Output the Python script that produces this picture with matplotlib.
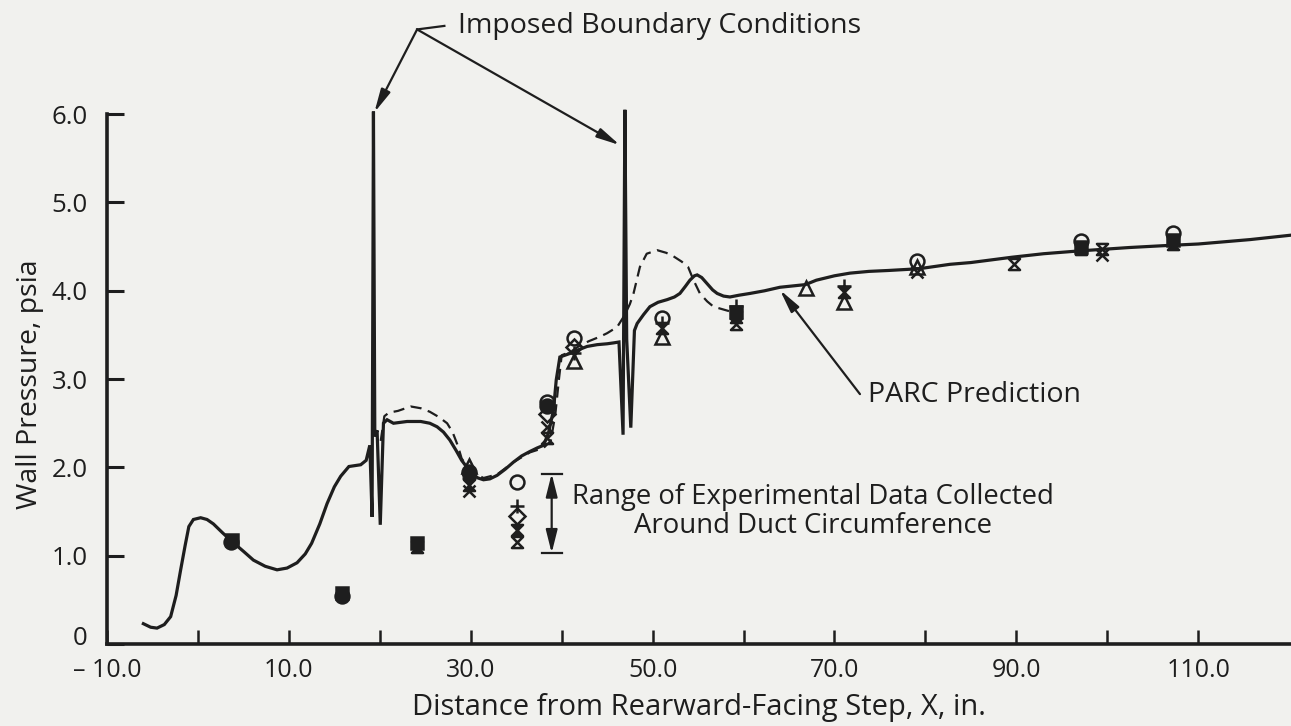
import matplotlib.pyplot as plt
from matplotlib.path import Path

plt.rcParams['font.family'] = ['Open Sans', 'DejaVu Sans']

INK = '#1e1e1e'
PAPER = '#f1f1ee'

# PARC prediction (solid) with the two imposed boundary-condition spikes
parc_x = [-6.0, -5.2, -4.5, -3.7, -3.0, -2.4, -1.9, -1.4, -1.0, -0.5, 0.3, 1.0, 1.7,
          2.7, 3.75, 5.0, 6.1, 7.4, 8.7, 9.8, 10.9, 11.8, 12.5, 13.4, 14.2, 15.0,
          15.7, 16.6, 17.9, 18.5, 18.9, 19.15, 19.3, 19.45, 19.7, 20.05, 20.4, 20.8,
          21.5, 23.0, 24.5, 25.5, 26.3, 27.0, 27.7, 28.4, 29.0, 30.1, 30.8, 31.4,
          32.1, 32.9, 33.8, 34.7, 35.6, 36.5, 37.3, 38.0, 38.55, 39.1, 39.4, 39.8,
          40.9, 41.8, 42.8, 43.9, 45.0, 45.7, 46.3, 46.75, 46.95, 47.15, 47.6, 48.0,
          48.3, 49.0, 49.7, 50.6, 51.6, 52.4, 53.0, 53.6, 54.1, 54.6, 54.9, 55.4,
          56.0, 56.6, 57.1, 57.8, 58.5, 59.5, 60.7, 62.3, 64.0, 66.8, 68.0, 70.0,
          71.7, 73.8, 75.9, 79.3, 82.7, 85.0, 89.5, 93.0, 96.7, 102.4, 106.0, 110.0,
          115.7, 120.2]
parc_y = [0.23, 0.19, 0.18, 0.22, 0.31, 0.55, 0.84, 1.12, 1.33, 1.41, 1.43, 1.41, 1.36,
          1.26, 1.16, 1.05, 0.95, 0.88, 0.84, 0.86, 0.92, 1.02, 1.14, 1.36, 1.59, 1.78,
          1.90, 2.01, 2.03, 2.08, 2.25, 1.44, 6.03, 2.35, 2.42, 1.35, 2.50, 2.54,
          2.50, 2.52, 2.52, 2.50, 2.46, 2.40, 2.31, 2.19, 2.08, 1.93, 1.88, 1.86,
          1.87, 1.91, 1.98, 2.06, 2.13, 2.18, 2.22, 2.25, 2.39, 2.65, 2.99, 3.25,
          3.29, 3.33, 3.37, 3.39, 3.40, 3.41, 3.42, 2.37, 6.05, 3.45, 2.45, 3.55,
          3.63, 3.73, 3.82, 3.87, 3.90, 3.93, 3.97, 4.05, 4.12, 4.17, 4.18, 4.15,
          4.08, 4.01, 3.97, 3.94, 3.93, 3.95, 3.97, 4.00, 4.04, 4.07, 4.12, 4.17,
          4.20, 4.22, 4.23, 4.25, 4.30, 4.32, 4.38, 4.42, 4.45, 4.49, 4.51, 4.53,
          4.58, 4.63]

# alternate prediction (dashed)
alt_x = [20.1, 20.5, 21.0, 22.0, 23.4, 24.5, 25.5, 26.5, 27.4, 28.0, 28.6, 29.0, 30.1,
         31.4, 32.9, 34.7, 36.5, 38.0, 38.8, 39.3, 39.7, 40.0, 41.0, 42.0, 43.0, 44.2,
         45.0, 46.1, 46.9, 47.5, 47.9, 48.6, 49.35, 50.5, 51.5, 52.3, 53.2, 53.9, 54.5,
         55.2, 56.0, 56.7, 58.4]
alt_y = [2.30, 2.58, 2.62, 2.64, 2.69, 2.67, 2.63, 2.57, 2.50, 2.40, 2.24, 2.10, 1.95,
         1.88, 1.92, 2.06, 2.17, 2.22, 2.30, 2.60, 3.00, 3.27, 3.31, 3.38, 3.43, 3.48,
         3.52, 3.59, 3.72, 3.85, 3.97, 4.27, 4.42, 4.46, 4.43, 4.39, 4.33, 4.27, 4.12,
         3.97, 3.88, 3.82, 3.77]

# experimental data, one pair of lists per symbol
open_circle_x = [35.1, 38.4, 41.3, 51.0, 79.1, 97.1, 107.2]
open_circle_y = [1.84, 2.74, 3.46, 3.69, 4.34, 4.56, 4.66]
filled_circle_x = [3.6, 15.85, 29.8, 38.4]
filled_circle_y = [1.15, 0.54, 1.95, 2.69]
filled_square_x = [3.7, 15.85, 24.1, 59.2, 97.1, 107.2]
filled_square_y = [1.18, 0.58, 1.14, 3.76, 4.50, 4.58]
plus_x = [29.8, 35.1, 41.3, 51.0, 59.2, 71.0]
plus_y = [1.88, 1.56, 3.30, 3.64, 3.83, 4.06]
diamond_x = [35.1, 38.4, 41.3]
diamond_y = [1.45, 2.60, 3.36]
triangle_x = [29.8, 41.3, 51.0, 66.9, 71.0, 79.1]
triangle_y = [2.02, 3.20, 3.48, 4.03, 3.87, 4.27]
cross_x = [29.8, 38.4, 79.1, 99.4]
cross_y = [1.73, 2.46, 4.21, 4.40]
glass_filled_x = [24.1, 29.8, 35.1, 51.0, 59.2, 71.0, 97.1, 107.2]
glass_filled_y = [1.10, 1.80, 1.29, 3.58, 3.70, 3.99, 4.47, 4.53]
glass_open_x = [35.1, 38.4, 59.2, 89.7, 99.4]
glass_open_y = [1.16, 2.33, 3.62, 4.30, 4.47]

y_ticks = [0, 1, 2, 3, 4, 5, 6]
y_labels = ['0', '1.0', '2.0', '3.0', '4.0', '5.0', '6.0']
x_ticks = list(range(-10, 111, 10))
x_labels = ['\u2013 10.0', '', '10.0', '', '30.0', '', '50.0', '', '70.0', '',
            '90.0', '', '110.0']

hourglass = Path([(-1, 1), (1, 1), (-1, -1), (1, -1), (-1, 1)],
                 [Path.MOVETO, Path.LINETO, Path.LINETO, Path.LINETO, Path.CLOSEPOLY])

fig = plt.figure(figsize=(12.91, 7.26), dpi=100, facecolor=PAPER)
ax = fig.add_axes([107 / 1291, 82 / 726, 1 - 107 / 1291, 644 / 726])
ax.set_facecolor(PAPER)
ax.set_xlim(-10, 120.2)
ax.set_ylim(0, 644 / 88.3)

ax.plot(parc_x, parc_y, color=INK, lw=2.3, solid_joinstyle='miter')
ax.plot(alt_x, alt_y, color=INK, lw=1.6, ls=(0, (5, 3)))

mk = dict(color=INK, ls='none', markersize=10, markeredgewidth=1.8)
ax.plot(open_circle_x, open_circle_y, marker='o', mfc='none', **mk)
ax.plot(filled_circle_x, filled_circle_y, marker='o', mfc=INK, **mk)
ax.plot(filled_square_x, filled_square_y, marker='s', mfc=INK, **{**mk, 'markersize': 9})
ax.plot(plus_x, plus_y, marker='+', **mk)
ax.plot(diamond_x, diamond_y, marker='D', mfc='none', **{**mk, 'markersize': 8})
ax.plot(triangle_x, triangle_y, marker='^', mfc='none', **mk)
ax.plot(cross_x, cross_y, marker='x', **{**mk, 'markersize': 8})
ax.plot(glass_filled_x, glass_filled_y, marker=hourglass, mfc=INK, **{**mk, 'markersize': 8})
ax.plot(glass_open_x, glass_open_y, marker=hourglass, mfc='none', **{**mk, 'markersize': 8})

# axes styling
for side in ['top', 'right']:
    ax.spines[side].set_visible(False)
ax.spines['left'].set_bounds(0, 6)
for side in ['left', 'bottom']:
    ax.spines[side].set_linewidth(2.6)
    ax.spines[side].set_color(INK)

ax.set_yticks(y_ticks)
# the zero label sits just above the x labels, so it is placed separately
ax.set_yticklabels([''] + y_labels[1:])
ax.annotate(y_labels[0], xy=(0, y_ticks[0]), xycoords=('axes fraction', 'data'),
            xytext=(-14, 4), textcoords='offset points', ha='right', va='center',
            fontsize=18.5, color=INK)
ax.set_xticks(x_ticks)
ax.set_xticklabels(x_labels)
ax.tick_params(axis='y', direction='in', length=12, width=2.2, pad=14,
               labelsize=18.5, colors=INK)
ax.tick_params(axis='x', direction='in', length=10, width=1.8, pad=10,
               labelsize=18, colors=INK)

fig.text(30 / 1291, 1 - 384 / 726, 'Wall Pressure, psia', rotation=90,
         ha='center', va='center', fontsize=20.5, color=INK)
fig.text(699 / 1291, 1 - 708 / 726, 'Distance from Rearward-Facing Step, X, in.',
         ha='center', va='center', fontsize=21, color=INK)

# annotations
arrow = dict(arrowstyle='-|>,head_length=1.4,head_width=0.3', color=INK, lw=1.6,
             shrinkA=0, shrinkB=0)
ax.annotate('', xy=(19.4, 6.02), xytext=(24.1, 6.96), arrowprops=arrow)
ax.annotate('', xy=(46.4, 5.65), xytext=(24.1, 6.96), arrowprops=arrow)
ax.plot([24.1, 27.1], [6.96, 7.0], color=INK, lw=1.6, clip_on=False)
ax.text(28.6, 7.0, 'Imposed Boundary Conditions', ha='left', va='center',
        fontsize=20.5, color=INK)

ax.annotate('', xy=(64.0, 4.01), xytext=(72.8, 2.83), arrowprops=arrow)
ax.text(73.7, 2.82, 'PARC Prediction', ha='left', va='center', fontsize=20.5, color=INK)

# range bar
ax.annotate('', xy=(38.9, 1.93), xytext=(38.9, 1.03),
            arrowprops=dict(arrowstyle='<|-|>,head_length=1.4,head_width=0.35',
                            color=INK, lw=1.6, shrinkA=0, shrinkB=0))
ax.plot([37.8, 40.0], [1.93, 1.93], color=INK, lw=1.6)
ax.plot([37.8, 40.0], [1.03, 1.03], color=INK, lw=1.6)
ax.text(67.6, 1.50, 'Range of Experimental Data Collected\nAround Duct Circumference',
        ha='center', va='center', fontsize=19.8, color=INK, linespacing=1.05)

fig.savefig('out.png', dpi=100, facecolor=PAPER)
